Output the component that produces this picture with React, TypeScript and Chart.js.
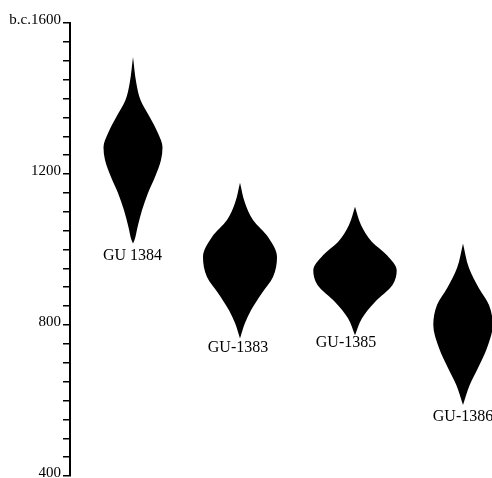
import React, { useEffect, useRef } from "react";
import { Chart, registerables } from "chart.js";

Chart.register(...registerables);

// Sample names, their horizontal positions and label anchors (x units / b.c. years)
const samples = ["GU 1384", "GU-1383", "GU-1385", "GU-1386"];
const samplePositions = [63, 170, 285, 393];
const labelPositions = [62.5, 168, 276, 393];
const labelLevels = [983, 739, 752, 556];

// Probability profiles: calendar levels (b.c.) and half-widths (relative probability)
const levels1384 = [1510, 1441, 1396, 1351, 1308, 1271, 1237, 1192, 1150, 1104, 1059, 1025, 1016];
const widths1384 = [0, 3.3, 7.5, 16.7, 25, 29.5, 28, 22, 15, 9, 4.5, 1.5, 0];

const levels1383 = [1177, 1123, 1078, 1033, 980, 927, 885, 839, 805, 764];
const widths1383 = [0, 5, 13, 28, 37, 33, 22, 11, 5, 0];

const levels1385 = [1113, 1065, 1020, 985, 945, 906, 861, 818, 773];
const widths1385 = [0, 6, 17, 32, 41.7, 37.5, 20, 7, 0];

const levels1386 = [1016, 951, 898, 853, 800, 739, 686, 641, 588];
const widths1386 = [0, 6, 15.8, 26, 29.7, 24, 15, 6.7, 0];

const profileLevels = [levels1384, levels1383, levels1385, levels1386];
const profileWidths = [widths1384, widths1383, widths1385, widths1386];

// Axis
const axisMin = 400;
const axisMax = 1600;
const axisStep = 50;
const axisLabelValues = [400, 800, 1200, 1600];
const axisLabelTexts = ["400", "800", "1200", "b.c.1600"];

const FONT = '"Liberation Serif", "DejaVu Serif", serif';

const sampleLabelPlugin = {
  id: "sampleLabels",
  afterDatasetsDraw(chart: any) {
    const { ctx } = chart;
    const x = chart.scales.x;
    const y = chart.scales.y;
    ctx.save();
    ctx.font = `16px ${FONT}`;
    ctx.fillStyle = "#000";
    ctx.textAlign = "center";
    ctx.textBaseline = "middle";
    samples.forEach((name, i) => {
      ctx.fillText(name, x.getPixelForValue(labelPositions[i]), y.getPixelForValue(labelLevels[i]));
    });
    ctx.restore();
  },
};

function buildDatasets() {
  const ds: any[] = [];
  samples.forEach((name, i) => {
    const c = samplePositions[i];
    const lv = profileLevels[i];
    const w = profileWidths[i];
    [1, -1].forEach((side) => {
      ds.push({
        label: name + (side > 0 ? " R" : " L"),
        data: lv.map((v, k) => ({ x: c + side * w[k], y: v })),
        showLine: true,
        fill: "shape",
        backgroundColor: "#000",
        borderColor: "#000",
        borderWidth: 0,
        pointRadius: 0,
        cubicInterpolationMode: "monotone",
        indexAxis: "y",
      });
    });
  });
  return ds;
}

export default function App() {
  const ref = useRef<HTMLCanvasElement | null>(null);
  useEffect(() => {
    document.body.style.margin = "0";
    const canvas = ref.current!;
    const chart = new Chart(canvas, {
      type: "scatter",
      data: { datasets: buildDatasets() },
      plugins: [sampleLabelPlugin],
      options: {
        animation: false,
        responsive: false,
        indexAxis: "y",
        layout: { padding: { top: 23, bottom: 2, left: 0, right: 0 } },
        plugins: { legend: { display: false }, tooltip: { enabled: false } },
        scales: {
          x: { type: "linear", min: 0, max: 422, display: false },
          y: {
            type: "linear",
            min: axisMin,
            max: axisMax,
            afterFit(scale: any) {
              scale.width = 70;
              scale.paddingTop = 0;
              scale.paddingBottom = 0;
            },
            border: { display: true, color: "#000", width: 2 },
            grid: {
              drawOnChartArea: false,
              drawTicks: true,
              tickLength: 7,
              color: "#000",
              lineWidth: 1.5,
            },
            ticks: {
              stepSize: axisStep,
              autoSkip: false,
              padding: 2,
              labelOffset: -3,
              color: "#000",
              font: { family: FONT, size: 15 },
              callback: (value: any) => {
                const idx = axisLabelValues.indexOf(Number(value));
                return idx >= 0 ? axisLabelTexts[idx] : "";
              },
            },
          },
        },
      },
    });
    return () => chart.destroy();
  }, []);
  return (
    <div style={{ width: 492, height: 478 }}>
      <canvas ref={ref} width={492} height={478} style={{ display: "block" }} />
    </div>
  );
}
